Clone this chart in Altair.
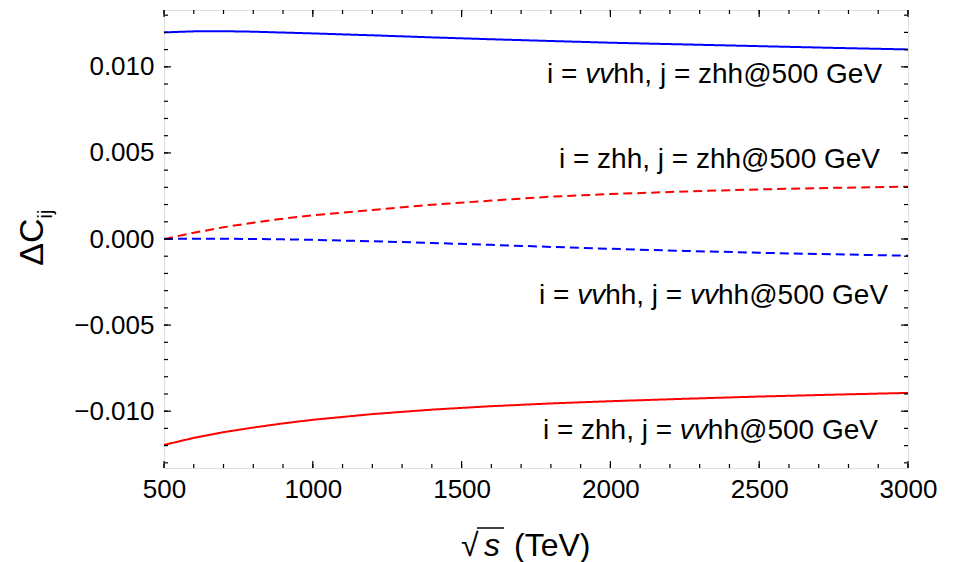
import altair as alt
import pandas as pd

# sqrt(s) grid shared by all four curves
energy = [500, 600, 700, 800, 900, 1000, 1200, 1400, 1600, 1800, 2000, 2250, 2500, 2750, 3000]

vv_zhh = [0.01200, 0.01206, 0.01207, 0.01204, 0.01199, 0.01194, 0.01183, 0.01171,
          0.01160, 0.01150, 0.01140, 0.01130, 0.01120, 0.01110, 0.01101]
zhh_zhh = [0.0, 0.00036, 0.00068, 0.00095, 0.00118, 0.00138, 0.00169, 0.00199,
           0.00223, 0.00246, 0.00261, 0.00276, 0.00288, 0.00297, 0.00304]
vv_vv = [0.0, 0.00002, 0.00002, 0.0, -0.00002, -0.00005, -0.00013, -0.00023,
         -0.00034, -0.00046, -0.00057, -0.00069, -0.00080, -0.00089, -0.00097]
zhh_vv = [-0.01196, -0.01155, -0.01122, -0.01095, -0.01071, -0.01050, -0.01017, -0.00991,
          -0.00971, -0.00955, -0.00942, -0.00928, -0.00915, -0.00904, -0.00894]

series_names = ["vv_zhh", "zhh_zhh", "vv_vv", "zhh_vv"]
series_values = [vv_zhh, zhh_zhh, vv_vv, zhh_vv]
series_colors = ["#0000ff", "#ff0000", "#0000ff", "#ff0000"]
series_dash = [[1, 0], [9, 5], [9, 5], [1, 0]]

x_major = [500, 1000, 1500, 2000, 2500, 3000]
x_minor = list(range(500, 3001, 100))
y_major = [-0.010, -0.005, 0.0, 0.005, 0.010]
y_minor = [k / 1000 for k in range(-13, 14)]

X_DOMAIN = [500, 3000]
Y_DOMAIN = [-0.0133, 0.0133]
W, H = 744, 458
FONT = "Liberation Sans"

rows = []
for name, vals in zip(series_names, series_values):
    for e, v in zip(energy, vals):
        rows.append({"energy": e, "dC": v, "series": name})
df = pd.DataFrame(rows)

xs = alt.Scale(domain=X_DOMAIN, nice=False, zero=False)
ys = alt.Scale(domain=Y_DOMAIN, nice=False, zero=False)

lines = alt.Chart(df).mark_line(strokeWidth=2, clip=True).encode(
    x=alt.X("energy:Q", scale=xs, axis=alt.Axis(
        values=x_major, format="d", tickSize=0, domain=False, grid=False, labelFlush=False,
        labelOverlap=False, labelFont=FONT, labelFontSize=26, labelColor="black",
        labelPadding=8, title=None)),
    y=alt.Y("dC:Q", scale=ys, axis=alt.Axis(
        values=y_major, format=".3f", tickSize=0, domain=False, grid=False,
        labelFlush=False, labelOverlap=False, labelFont=FONT, labelFontSize=26,
        labelColor="black", labelPadding=10, title=None)),
    color=alt.Color("series:N", scale=alt.Scale(domain=series_names, range=series_colors), legend=None),
    strokeDash=alt.StrokeDash("series:N", scale=alt.Scale(domain=series_names, range=series_dash), legend=None),
    detail="series:N",
)

# inward frame ticks on all four sides
def xticks(values, length):
    d = pd.DataFrame({"energy": values})
    bottom = alt.Chart(d).mark_rule(color="black", strokeWidth=1.2).encode(
        x=alt.X("energy:Q", scale=xs), y=alt.value(H), y2=alt.value(H - length))
    top = alt.Chart(d).mark_rule(color="black", strokeWidth=1.2).encode(
        x=alt.X("energy:Q", scale=xs), y=alt.value(0), y2=alt.value(length))
    return [bottom, top]

def yticks(values, length):
    d = pd.DataFrame({"dC": values})
    left = alt.Chart(d).mark_rule(color="black", strokeWidth=1.2).encode(
        y=alt.Y("dC:Q", scale=ys), x=alt.value(0), x2=alt.value(length))
    right = alt.Chart(d).mark_rule(color="black", strokeWidth=1.2).encode(
        y=alt.Y("dC:Q", scale=ys), x=alt.value(W), x2=alt.value(W - length))
    return [left, right]

tick_layers = xticks(x_major, 7) + xticks(x_minor, 4) + yticks(y_major, 7) + yticks(y_minor, 4)

# curve labels, with the italic "vv" pieces set separately
ADV = {"i": 222, " ": 278, "=": 584, "v": 500, "h": 556, ",": 278, "j": 222, "z": 500,
       "@": 1015, "5": 556, "0": 556, "G": 778, "e": 556, "V": 667}
LABEL_SIZE = 28

labels = [
    (2913, 0.00955, [("i = ", False), ("vv", True), ("hh, j = zhh@500 GeV", False)]),
    (2906, 0.00461, [("i = zhh, j = zhh@500 GeV", False)]),
    (2933, -0.0033, [("i = ", False), ("vv", True), ("hh, j = ", False), ("vv", True), ("hh@500 GeV", False)]),
    (2899, -0.01115, [("i = zhh, j = ", False), ("vv", True), ("hh@500 GeV", False)]),
]

label_layers = []
for xr, yv, parts in labels:
    widths = [sum(ADV[c] for c in t) * LABEL_SIZE / 1000 for t, _ in parts]
    total = sum(widths)
    start = -total
    for (t, ital), w in zip(parts, widths):
        label_layers.append(
            alt.Chart(pd.DataFrame({"energy": [xr], "dC": [yv], "t": [t]})).mark_text(
                align="left", baseline="middle", dx=start, font=FONT, fontSize=LABEL_SIZE,
                fontStyle="italic" if ital else "normal", color="black"
            ).encode(x=alt.X("energy:Q", scale=xs), y=alt.Y("dC:Q", scale=ys), text="t:N")
        )
        start += w

# axis titles
def title_text(text, x, y, size, angle=0, style="normal", align="left"):
    return alt.Chart(pd.DataFrame({"t": [text]})).mark_text(
        align=align, baseline="middle", font=FONT, fontSize=size, angle=angle,
        fontStyle=style, color="black"
    ).encode(x=alt.value(x), y=alt.value(y), text="t:N")

titles = [
    title_text("ΔC", -131, 232, 34, angle=270, align="center"),
    title_text("ij", -118, 204, 20, angle=270, align="center"),
    title_text("√", 297, 536, 32),
    title_text("s", 320, 536, 32, style="italic"),
    title_text("(TeV)", 350, 536, 32),
    alt.Chart(pd.DataFrame({"a": [0]})).mark_rule(color="black", strokeWidth=1.5).encode(
        x=alt.value(313), x2=alt.value(340), y=alt.value(518)),
]

chart = alt.layer(lines, *tick_layers, *label_layers, *titles).properties(
    width=W, height=H,
    autosize=alt.AutoSizeParams(type="none"),
    padding={"left": 164, "top": 10, "right": 47, "bottom": 94},
).configure_view(stroke="black", strokeWidth=1.5).configure(background="white")

chart.save("out.html", embed_options={"renderer": "svg", "actions": False})
